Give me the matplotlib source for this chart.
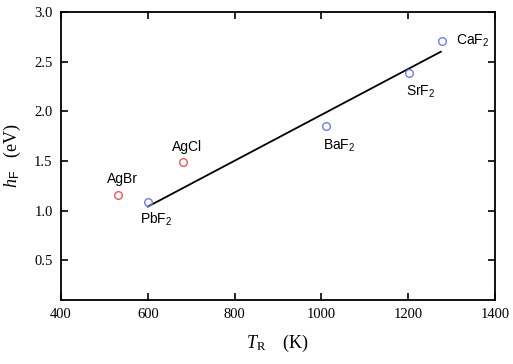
import matplotlib
matplotlib.use("Agg")
import matplotlib.pyplot as plt

plt.rcParams["mathtext.fontset"] = "custom"
plt.rcParams["mathtext.it"] = "Liberation Serif:italic"
plt.rcParams["mathtext.rm"] = "Liberation Serif"
plt.rcParams["mathtext.sf"] = "Liberation Sans"

# data
names = ["AgBr", "AgCl", r"PbF$_\mathsf{2}$", r"BaF$_\mathsf{2}$",
         r"SrF$_\mathsf{2}$", r"CaF$_\mathsf{2}$"]
t_r = [531, 681, 600, 1010, 1202, 1278]
h_f = [1.16, 1.49, 1.09, 1.85, 2.39, 2.71]
colors = ["#e35b5b", "#e35b5b", "#6f7fe0", "#6f7fe0", "#6f7fe0", "#6f7fe0"]
# label offsets in points
offsets = [(-8, 11), (-8, 11), (-6, -13), (-2, -14), (-2, -14), (10, 0)]

fit_x = [600, 1275]
fit_y = [1.04, 2.60]

fig = plt.figure(figsize=(5.13, 3.64), dpi=100)
ax = fig.add_axes([0.119, 0.176, 0.846, 0.791])

ax.plot(fit_x, fit_y, color="black", lw=1.3)
for x, y, c in zip(t_r, h_f, colors):
    ax.plot(x, y, "o", mfc="none", mec=c, ms=5.5, mew=1.0)

for n, x, y, off in zip(names, t_r, h_f, offsets):
    ax.annotate(n, (x, y), xytext=off, textcoords="offset points",
                family="Liberation Sans", fontsize=10, va="center", ha="left")

ax.set_xlim(400, 1400)
ax.set_ylim(0.1, 3.0)
ax.set_xticks([400, 600, 800, 1000, 1200, 1400])
ax.set_yticks([0.5, 1.0, 1.5, 2.0, 2.5, 3.0])
ax.tick_params(direction="in", top=True, right=True, length=5, width=1.2,
               labelsize=10.5, pad=6)
for lab in ax.get_xticklabels() + ax.get_yticklabels():
    lab.set_family("Liberation Serif")
for s in ax.spines.values():
    s.set_linewidth(1.3)

ax.set_xlabel(r"$T_\mathrm{R}$    (K)", family="Liberation Serif", fontsize=13,
              labelpad=8)
ax.set_ylabel(r"$h_\mathsf{F}$   (eV)", family="Liberation Serif", fontsize=13,
              labelpad=8)

fig.savefig("out.png", dpi=100)
